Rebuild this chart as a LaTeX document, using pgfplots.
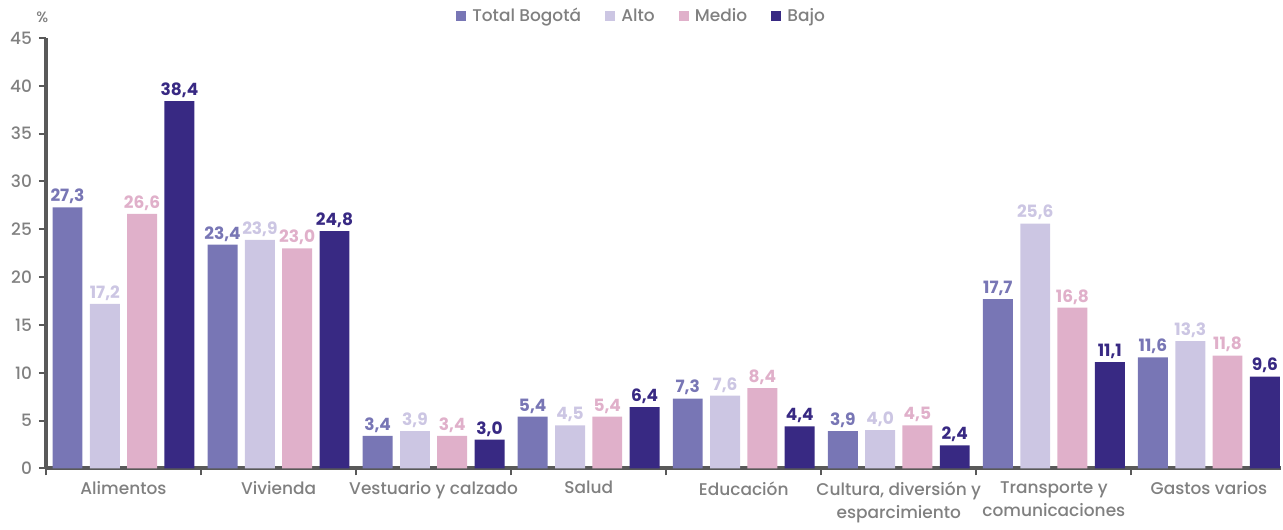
\documentclass[border=0pt]{standalone}
\usepackage{pgfplots}
\pgfplotsset{compat=1.18}
\usepackage{fontspec}
\setmainfont{Poppins}[UprightFont=* Medium, BoldFont=* Bold]
\definecolor{ctot}{HTML}{7876B5}
\definecolor{calto}{HTML}{CCC6E3}
\definecolor{cmedio}{HTML}{E0B0CA}
\definecolor{cbajo}{HTML}{382983}
\definecolor{axgray}{HTML}{595959}
\definecolor{txgray}{HTML}{808080}
\begin{document}
\begin{tikzpicture}
\begin{axis}[
  name=ax,
  scale only axis, clip=false,
  width=618.5pt, height=215.5pt,
  ymin=0, ymax=45, ytick={0,5,...,45},
  xmin=-0.5, xmax=7.465,
  axis x line*=bottom, axis y line*=left,
  axis line style={line width=2pt, draw=axgray},
  tick align=outside,
  major tick length=3.5pt,
  tick style={line width=1pt, draw=axgray},
  xtick={-0.5,0.5,...,6.5}, xticklabels={,,,,,,,,},
  extra x ticks={0,1,2,3,4,5,6,7},
  extra x tick labels={Alimentos,Vivienda,Vestuario y calzado,Salud,Educación,{Cultura, diversión y\\esparcimiento},{Transporte y\\comunicaciones},Gastos varios},
  extra x tick style={major tick length=0pt, xticklabel style={align=center, text=txgray, font=\fontsize{8.5}{11.5}\selectfont, yshift=-3pt}},
  yticklabel style={text=txgray, font=\fontsize{8.5}{10}\selectfont},
  /pgf/number format/assume math mode=true,
  ybar, bar width=0.193,
  legend style={at={(0.483,1.012)}, anchor=south, draw=none, fill=none,
    legend columns=-1, font=\fontsize{8.5}{10}\selectfont, text=txgray,
    /tikz/every even column/.append style={column sep=10pt},
    /tikz/every odd column/.append style={column sep=1pt}},
  legend image code/.code={\fill[#1] (0cm,-0.09cm) rectangle (0.18cm,0.09cm);},
  nodes near coords={\pgfmathprintnumber[fixed,fixed zerofill,precision=1,use comma]{\pgfplotspointmeta}},
  every node near coord/.append style={font=\bfseries\fontsize{8.5}{10}\selectfont, inner sep=1.5pt},
]
\addplot[fill=ctot, draw=none, bar shift=-0.361, every node near coord/.append style={text=ctot}]
  coordinates {(0,27.3) (1,23.4) (2,3.4) (3,5.4) (4,7.3) (5,3.9) (6,17.7) (7,11.6)};
\addplot[fill=calto, draw=none, bar shift=-0.120, every node near coord/.append style={text=calto}]
  coordinates {(0,17.2) (1,23.9) (2,3.9) (3,4.5) (4,7.6) (5,4.0) (6,25.6) (7,13.3)};
\addplot[fill=cmedio, draw=none, bar shift=0.120, every node near coord/.append style={text=cmedio}]
  coordinates {(0,26.6) (1,23.0) (2,3.4) (3,5.4) (4,8.4) (5,4.5) (6,16.8) (7,11.8)};
\addplot[fill=cbajo, draw=none, bar shift=0.361, every node near coord/.append style={text=cbajo}]
  coordinates {(0,38.4) (1,24.8) (2,3.0) (3,6.4) (4,4.4) (5,2.4) (6,11.1) (7,9.6)};
\legend{Total Bogotá,Alto,Medio,Bajo}
\node[anchor=south, text=txgray, font=\fontsize{7.5}{9}\selectfont, inner sep=0pt] at (rel axis cs:-0.003,1.035) {\%};
\end{axis}
\path ([xshift=-23pt]ax.south west) -- ([xshift=-23pt]ax.north west);
\end{tikzpicture}
\end{document}
